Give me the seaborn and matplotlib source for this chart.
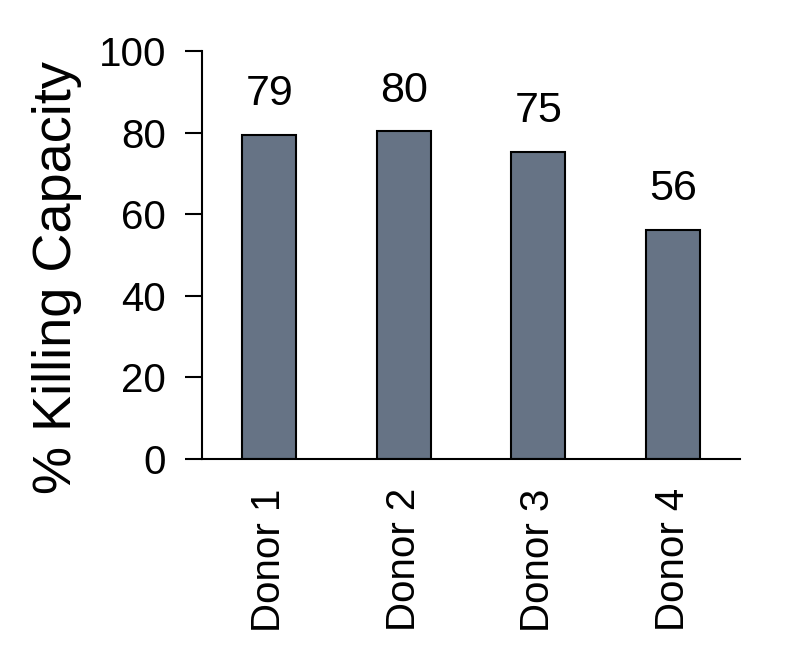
import matplotlib
matplotlib.use('Agg')
import matplotlib.pyplot as plt
import seaborn as sns
import pandas as pd

# values
donors = ['Donor 1', 'Donor 2', 'Donor 3', 'Donor 4']
killing = [79.4, 80.3, 75.2, 56.1]
labels = ['79', '80', '75', '56']

data = pd.DataFrame({'donor': donors, 'killing': killing})

sns.set_style('ticks', {'axes.edgecolor': 'black', 'text.color': 'black',
                        'axes.labelcolor': 'black', 'xtick.color': 'black',
                        'ytick.color': 'black'})
plt.rcParams['font.family'] = ['Liberation Sans', 'DejaVu Sans']

fig = plt.figure(figsize=(7.94, 6.6), dpi=100)
ax = fig.add_axes([0.2544, 0.3045, 0.932 - 0.2544, 0.9227 - 0.3045])

sns.barplot(data=data, x='donor', y='killing', color='#667385', width=0.4,
            edgecolor='black', linewidth=1.5, saturation=1, ax=ax)

# value labels above bars
for i, (v, lab) in enumerate(zip(killing, labels)):
    ax.annotate(lab, (i, v), xytext=(0, 15), textcoords='offset points',
                ha='center', va='bottom', fontsize=31, color='black')

ax.set_xlim(-0.5, 3.5)
ax.set_ylim(0, 100)
ax.set_yticks([0, 20, 40, 60, 80, 100])
ax.set_xlabel('')
ax.set_ylabel('% Killing Capacity', fontsize=39)
ax.yaxis.label.set_rotation_mode('default')
ax.yaxis.label.set_va('center')
ax.yaxis.set_label_coords(-0.27, 0.446)
ax.tick_params(axis='y', labelsize=29, length=12, width=1.5, direction='out', pad=14)
ax.tick_params(axis='x', labelsize=29, length=0, rotation=90, pad=21)
sns.despine(ax=ax)
for s in ['left', 'bottom']:
    ax.spines[s].set_linewidth(1.5)
ax.spines['bottom'].set_bounds(-0.5, 3.5)

fig.savefig('out.png', dpi=100)
plt.close()
